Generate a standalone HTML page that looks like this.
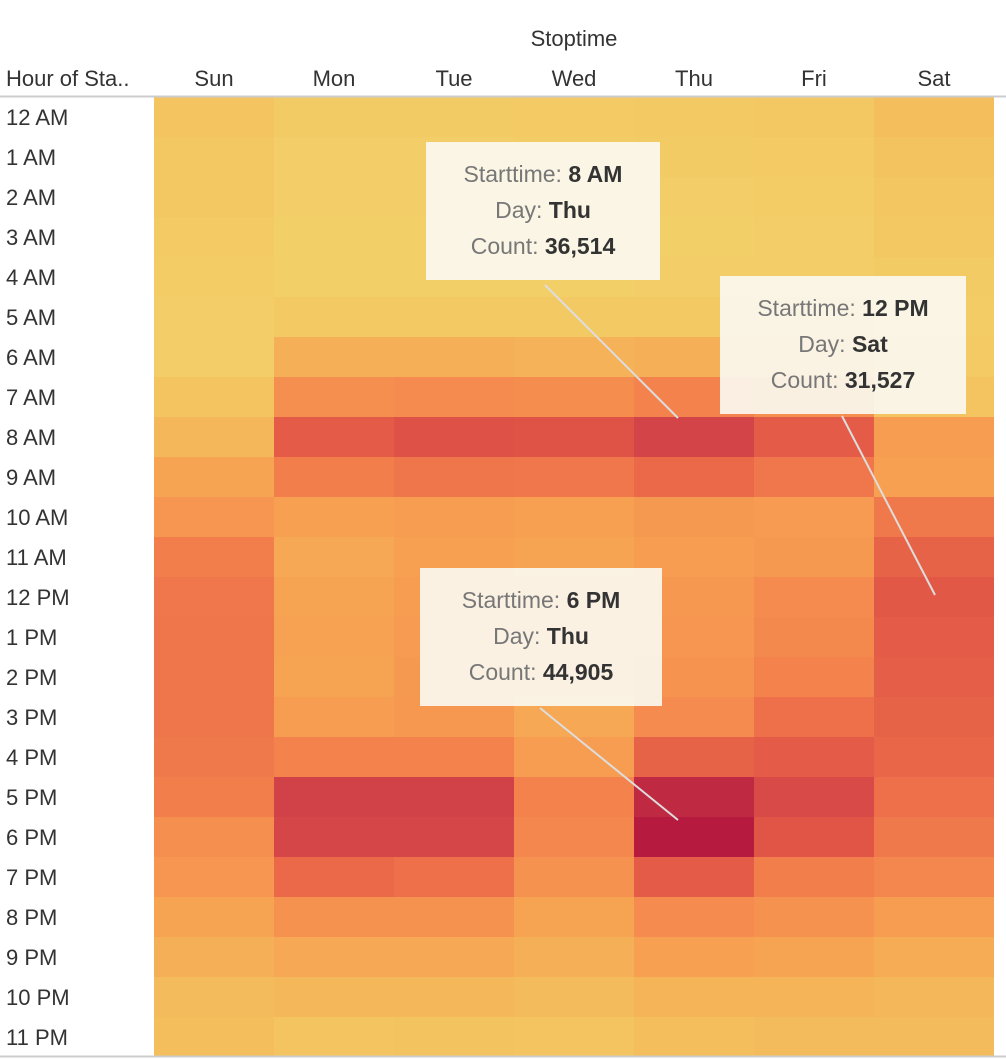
<!DOCTYPE html>
<html><head><meta charset="utf-8">
<style>
body{margin:0;background:#fff;font-family:"Liberation Sans",sans-serif;}
#wrap{position:relative;width:1006px;height:1062px;overflow:hidden;}
.tip{position:absolute;background:rgba(250,247,238,0.93);text-align:center;font-size:23px;line-height:36px;color:#777;padding-top:14px;box-sizing:border-box;}
.tip b{color:#333;font-weight:bold;}
</style></head><body>
<div id="wrap">
<svg id="chart" width="1006" height="1062"></svg>
<div class="tip" style="left:426px;top:142px;width:234px;height:138px">Starttime: <b>8 AM</b><br>Day: <b>Thu</b><br>Count: <b>36,514</b></div>
<div class="tip" style="left:720px;top:276px;width:246px;height:138px">Starttime: <b>12 PM</b><br>Day: <b>Sat</b><br>Count: <b>31,527</b></div>
<div class="tip" style="left:420px;top:568px;width:242px;height:138px">Starttime: <b>6 PM</b><br>Day: <b>Thu</b><br>Count: <b>44,905</b></div>
</div>
<script>
const days=["Sun","Mon","Tue","Wed","Thu","Fri","Sat"];
const hours=["12 AM","1 AM","2 AM","3 AM","4 AM","5 AM","6 AM","7 AM","8 AM","9 AM","10 AM","11 AM","12 PM","1 PM","2 PM","3 PM","4 PM","5 PM","6 PM","7 PM","8 PM","9 PM","10 PM","11 PM"];
const counts=[
[6000,3000,3000,3500,4000,5000,8000],
[5000,2000,2000,2500,3000,3500,6500],
[4500,1500,1500,1500,2000,2500,5500],
[3500,1000,1000,1000,1200,1500,4500],
[2500,1200,1200,1200,1300,1500,3000],
[1500,4000,4000,4000,4000,3500,2500],
[2000,12000,12000,11500,12000,10500,3500],
[6000,21000,22000,21500,24000,21000,6000],
[10000,31000,33000,32500,36514,31000,17000],
[15000,25000,27000,26500,29000,26500,16000],
[19000,16000,17000,16000,18000,17500,26000],
[25000,14000,16000,15000,17000,18000,30000],
[26500,15000,17000,16000,18500,22000,31527],
[27000,15500,17500,16500,19000,22500,31000],
[27000,15000,18000,16500,19500,24000,30500],
[27000,17000,18500,14000,22000,28000,30000],
[26000,24000,24000,17000,30000,31000,29500],
[25000,37000,37000,24000,42000,35000,28000],
[21000,36000,36000,23000,44905,32000,26000],
[19000,29000,28000,20000,31000,25000,23000],
[15000,20000,20000,15000,22000,20000,17000],
[12000,14000,14000,12000,16000,15000,13000],
[9000,10000,10000,9000,11000,11000,10000],
[8000,6000,6500,6000,8000,9000,9000]];
const stopV=[0,5000,10000,15000,22000,28000,32000,38000,45000];
const stopC=[[243,209,106],[243,199,98],[244,184,90],[247,164,82],[245,139,78],[238,112,74],[224,85,70],[206,62,72],[182,26,62]];
function color(v){
  let i=0;while(i<stopV.length-2&&v>stopV[i+1])i++;
  let t=Math.max(0,Math.min(1,(v-stopV[i])/(stopV[i+1]-stopV[i])));
  const c=stopC[i].map((a,k)=>Math.round(a+(stopC[i+1][k]-a)*t));
  return `rgb(${c[0]},${c[1]},${c[2]})`;
}
const x0=154,cw=120,y0=97,rh=40;
const xs=i=>x0+i*cw, ys=j=>y0+j*rh;
const NS="http://www.w3.org/2000/svg",svg=document.getElementById("chart");
function mk(tag,attrs,txt){const e=document.createElementNS(NS,tag);for(const k in attrs)e.setAttribute(k,attrs[k]);if(txt!=null)e.textContent=txt;svg.appendChild(e);return e;}
hours.forEach((h,j)=>{days.forEach((d,i)=>{
  const r=mk("rect",{x:xs(i),y:ys(j),width:cw,height:rh,fill:color(counts[j][i])});
  
  
});
  const t=mk("text",{x:6,y:ys(j)+28,"font-size":22,fill:"#333"},h);
  
  
});
days.forEach((d,i)=>{
  const t=mk("text",{x:xs(i)+cw/2,y:86,"font-size":22,fill:"#333","text-anchor":"middle"},d);
  
  
});
const ti=mk("text",{x:574,y:46,"font-size":22,fill:"#333","text-anchor":"middle"},"Stoptime");


const rt=mk("text",{x:6,y:86,"font-size":22,fill:"#333"},"Hour of Sta..");


mk("line",{x1:0,x2:1006,y1:96.5,y2:96.5,stroke:"#ccc","stroke-width":2});
mk("line",{x1:0,x2:1006,y1:1056.5,y2:1056.5,stroke:"#ccc","stroke-width":2});
[[545,285,678,418],[842,416,935,595],[540,708,678,820]].forEach(l=>{
  const e=mk("line",{x1:l[0],y1:l[1],x2:l[2],y2:l[3],stroke:"#ddd","stroke-width":2});
  
  
});
</script>
</body></html>
